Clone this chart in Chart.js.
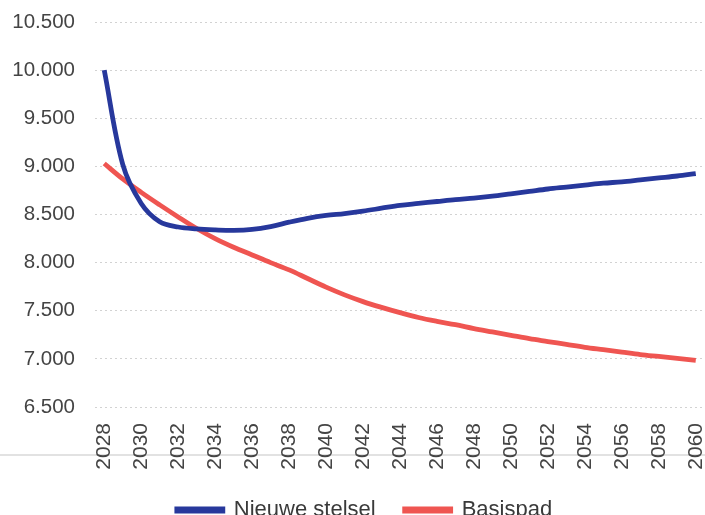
<!DOCTYPE html>
<html>
<head>
<meta charset="utf-8">
<script src="https://cdn.jsdelivr.net/npm/chart.js@4/dist/chart.umd.min.js"></script>
<style>
  html, body { margin: 0; padding: 0; background: #fff; overflow: hidden; }
  #wrap { width: 705px; height: 531px; position: relative; }
</style>
</head>
<body>
<div id="wrap"><canvas id="chart"></canvas></div>
<script>
const years = [];
for (let y = 2028; y <= 2060; y++) years.push(String(y));

const nieuweStelsel = [10000, 9020, 8615, 8425, 8370, 8350, 8340, 8335, 8345, 8375,
  8420, 8460, 8490, 8510, 8535, 8565, 8595, 8615, 8635, 8655,
  8670, 8690, 8715, 8740, 8765, 8785, 8805, 8825, 8840, 8860,
  8880, 8900, 8925];

const basispad = [9030, 8870, 8730, 8600, 8475, 8355, 8250, 8160, 8080, 8000,
  7925, 7835, 7745, 7665, 7595, 7535, 7480, 7430, 7390, 7355,
  7315, 7280, 7245, 7210, 7180, 7150, 7120, 7095, 7070, 7045,
  7025, 7005, 6985];

const yMin = 6500, yMax = 10500, yStep = 500;

const fmt = v => v.toLocaleString('nl-NL');

// faint scan line across the page below the axis
const scanLine = {
  id: 'scanLine',
  afterLayout(chart) {
    // nudge the legend a little to the right, like the original
    chart.legend.left += 7;
    chart.legend.right += 7;
  },
  beforeDraw(chart) {
    const c = chart.ctx;
    c.save();
    c.strokeStyle = '#e2e2e2';
    c.lineWidth = 2;
    c.beginPath();
    c.moveTo(0, 455);
    c.lineTo(chart.width, 455);
    c.stroke();
    c.restore();
  }
};

const ctx = document.getElementById('chart').getContext('2d');
new Chart(ctx, {
  type: 'line',
  data: {
    labels: years,
    datasets: [{
      label: 'Nieuwe stelsel',
      data: nieuweStelsel,
      borderColor: '#27389c',
      backgroundColor: '#27389c',
      borderWidth: 4.8,
      pointRadius: 0,
      tension: 0.35
    }, {
      label: 'Basispad',
      data: basispad,
      borderColor: '#ef5551',
      backgroundColor: '#ef5551',
      borderWidth: 4.8,
      pointRadius: 0,
      tension: 0.35
    }]
  },
  options: {
    responsive: true,
    maintainAspectRatio: false,
    animation: false,
    layout: { padding: { top: 22, right: 0, left: 10, bottom: 0 } },
    plugins: {
      legend: {
        position: 'bottom',
        labels: {
          boxWidth: 46,
          boxHeight: 2,
          padding: 29,
          color: '#3a3a3a',
          font: { family: 'Liberation Sans', size: 22 }
        }
      },
      tooltip: { enabled: false }
    },
    scales: {
      x: {
        offset: true,
        grid: { display: false },
        border: { display: false },
        afterFit(scale) {
          scale.paddingRight = 0;
          scale.paddingLeft = 0;
          scale.height = 63;
        },
        ticks: {
          color: '#444',
          font: { family: 'Liberation Sans', size: 21 },
          maxRotation: 90,
          minRotation: 90,
          autoSkip: false,
          padding: 8,
          callback: function(val, i) {
            return i % 2 === 0 ? this.getLabelForValue(val) : '';
          }
        }
      },
      y: {
        min: yMin,
        max: yMax,
        border: { display: false, dash: [2, 3] },
        grid: {
          color: '#d2d2d2',
          lineWidth: 1,
          drawTicks: false
        },
        afterFit(scale) {
          scale.width = 85;
          scale.paddingTop = 0;
        },
        ticks: {
          stepSize: yStep,
          padding: 20,
          color: '#444',
          font: { family: 'Liberation Sans', size: 20.5 },
          callback: v => fmt(v)
        }
      }
    }
  },
  plugins: [scanLine]
});
</script>
</body>
</html>
